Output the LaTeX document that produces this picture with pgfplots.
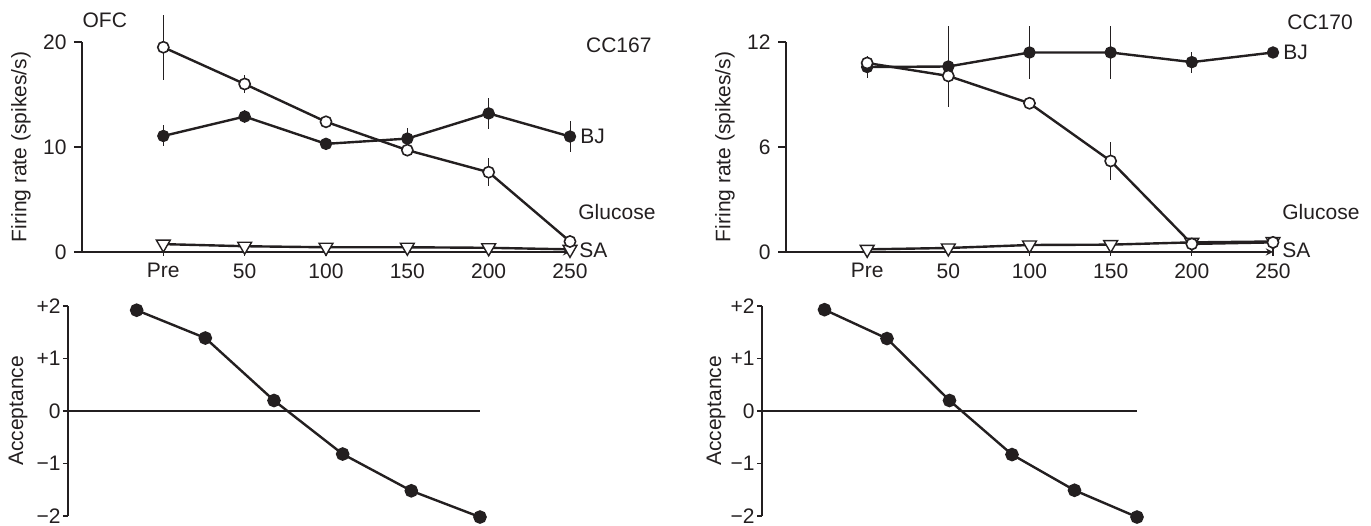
\documentclass[border=0pt]{standalone}
\usepackage{fontspec}
\setmainfont{Liberation Sans}
\usepackage{pgfplots}
\usepackage{pgfplotstable}
\pgfplotsset{compat=1.18}
\definecolor{ink}{RGB}{35,31,32}

\pgfplotstableread{
x y e
0 19.5 3.1
1 16.0 0.9
2 12.4 0.3
3 9.7 0.6
4 7.6 1.35
5 1.0 0.4
}\glucA
\pgfplotstableread{
x y e
0 11.05 1.0
1 12.9 0.6
2 10.3 0.5
3 10.8 1.0
4 13.2 1.45
5 11.0 1.5
}\bjA
\pgfplotstableread{
x y
0 0.75
1 0.55
2 0.45
3 0.45
4 0.4
5 0.25
}\saA
\pgfplotstableread{
x y e
0 10.8 0.4
1 10.06 1.5
2 8.5 0.3
3 5.2 1.1
4 0.46 0.2
5 0.55 0.3
}\glucB
\pgfplotstableread{
x y e
0 10.57 0.65
1 10.6 2.3
2 11.4 1.5
3 11.4 1.5
4 10.85 0.6
5 11.4 0.2
}\bjB
\pgfplotstableread{
x y
0 0.15
1 0.23
2 0.4
3 0.42
4 0.55
5 0.6
}\saB
\pgfplotstableread{
x y
0 1.92
1 1.39
2 0.2
3 -0.82
4 -1.52
5 -2.02
}\accA
\pgfplotstableread{
x y
0 1.93
1 1.38
2 0.2
3 -0.83
4 -1.51
5 -2.02
}\accB

\pgfplotsset{
  base/.style={
    scale only axis, anchor=south west, clip=false,
    xmin=-1, xmax=5,
    axis y line=left,
    axis line style={ink, line width=0.6pt, -},
    every outer x axis line/.append style={-},
    every outer y axis line/.append style={-},
    every inner x axis line/.append style={-},
    every inner y axis line/.append style={-},
    x axis line style={-}, y axis line style={-},
    tick style={ink, line width=0.6pt},
    tick align=outside, major tick length=4pt,
    /pgf/number format/assume math mode=true,
    tick label style={font=\fontsize{10.5}{12}\selectfont, text=ink},
    label style={font=\fontsize{10.5}{12}\selectfont, text=ink},
  },
  toppanel/.style={
    base, axis x line=bottom, ymin=0,
    xtick={0,1,2,3,4,5}, xticklabels={Pre,50,100,150,200,250},
    width=244pt, height=105pt,
    ylabel={Firing rate (spikes/s)},
    ylabel style={at={(axis description cs:0,0.5)}, yshift=30.5pt, anchor=center},
  },
  botpanel/.style={
    base, axis x line=none, ymin=-2, ymax=2, height=105pt,
    major tick length=2.5pt,
    yticklabel style={inner xsep=1pt},
    ytick={-2,-1,0,1,2}, yticklabels={−2,−1,0,+1,+2},
    ylabel={Acceptance},
  },
  gluc/.style={ink, line width=1.2pt, mark=*, mark size=2.8pt,
    mark options={fill=white, draw=ink, line width=0.8pt},
    error bars/.cd, y dir=both, y explicit,
    error bar style={line width=0.5pt, ink}, error mark=none},
  bj/.style={ink, line width=1.2pt, mark=*, mark size=2.8pt,
    mark options={fill=ink, draw=ink, line width=0.6pt},
    error bars/.cd, y dir=both, y explicit,
    error bar style={line width=0.5pt, ink}, error mark=none},
  sa/.style={ink, line width=1.2pt, mark=triangle*, mark size=4pt,
    mark options={fill=white, draw=ink, line width=0.7pt, rotate=180}},
  acc/.style={ink, line width=1.2pt, mark=*, mark size=2.8pt,
    mark options={fill=ink, draw=ink}},
}

\begin{document}
\fontsize{10.5}{12}\selectfont
\begin{tikzpicture}
\path[use as bounding box] (0,0) rectangle (685.5pt,262.5pt);

% top-left
\begin{axis}[toppanel, at={(41pt,136.5pt)}, ymax=20, ytick={0,10,20}]
\addplot[sa] table[x=x,y=y] {\saA};
\addplot[bj] table[x=x,y=y,y error=e] {\bjA};
\addplot[gluc] table[x=x,y=y,y error=e] {\glucA};
\node[text=ink, anchor=center] at (axis cs:-0.72,22.1) {OFC};
\node[text=ink, anchor=center] at (axis cs:5.6,19.7) {CC167};
\node[text=ink, anchor=west, inner sep=0pt] at ([xshift=5pt]axis cs:5,11) {BJ};
\node[text=ink, anchor=west, inner sep=0pt] at ([xshift=4pt]axis cs:5,3.8) {Glucose};
\node[text=ink, anchor=west, inner sep=0pt] at ([xshift=4.5pt]axis cs:5,0.2) {SA};
\end{axis}

% top-right
\begin{axis}[toppanel, at={(393pt,136.5pt)}, width=243.5pt, ymax=12, ytick={0,6,12}]
\addplot[sa] table[x=x,y=y] {\saB};
\addplot[bj] table[x=x,y=y,y error=e] {\bjB};
\addplot[gluc] table[x=x,y=y,y error=e] {\glucB};
\node[text=ink, anchor=center] at (axis cs:5.58,13.1) {CC170};
\node[text=ink, anchor=west, inner sep=0pt] at ([xshift=5pt]axis cs:5,11.4) {BJ};
\node[text=ink, anchor=west, inner sep=0pt] at ([xshift=4.5pt]axis cs:5,2.29) {Glucose};
\node[text=ink, anchor=west, inner sep=0pt] at ([xshift=4.5pt]axis cs:5,0.1) {SA};
\end{axis}

% bottom-left
\begin{axis}[botpanel, at={(34pt,4.5pt)}, width=206pt,
  ylabel style={at={(axis description cs:0,0.5)}, yshift=25pt, anchor=center}]
\addplot[ink, line width=0.6pt] coordinates {(-1,0) (5,0)};
\addplot[acc] table[x=x,y=y] {\accA};
\end{axis}

% bottom-right
\begin{axis}[botpanel, at={(381pt,4.5pt)}, width=187.5pt,
  ylabel style={at={(axis description cs:0,0.5)}, yshift=23pt, anchor=center}]
\addplot[ink, line width=0.6pt] coordinates {(-1,0) (5,0)};
\addplot[acc] table[x=x,y=y] {\accB};
\end{axis}
\end{tikzpicture}
\end{document}
